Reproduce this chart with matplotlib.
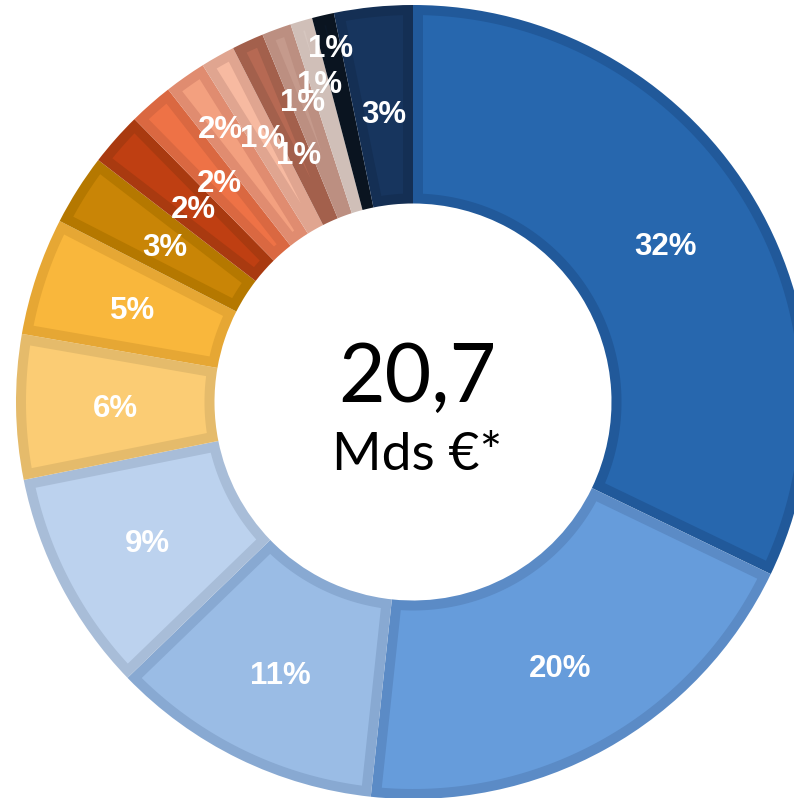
import matplotlib
matplotlib.use("Agg")
import matplotlib.pyplot as plt
from matplotlib.patches import Polygon
import numpy as np

# Share of each segment (percent), clockwise from 12 o'clock
shares = [32.2, 19.6, 11.1, 9.1, 5.9, 4.8, 2.9, 2.2, 1.8, 1.7, 1.4, 1.3, 1.2, 0.9, 0.9, 3.2]
fill_colors = ["#2767AE", "#669CDB", "#9ABCE5", "#BCD2EE", "#FBCC74", "#F9B73C",
               "#C98506", "#BF3F12", "#EE7246", "#F3A07F", "#F7BAA1", "#B66953",
               "#C59A8C", "#D6C6BF", "#0B1726", "#17355E"]
edge_colors = ["#21599A", "#5B8BC6", "#88A9D2", "#A8BDD8", "#E5BB6B", "#E6A734",
               "#B57800", "#A93A10", "#DA6841", "#E08C70", "#E0A590", "#A3604C",
               "#BC8F81", "#D0BFB8", "#0A1420", "#142F54"]
# radial position of each percentage label, as a fraction of the outer radius
label_radius = [0.75, 0.76, 0.76, 0.755, 0.75, 0.745, 0.74, 0.74, 0.74, 0.845,
                0.77, 0.69, 0.81, 0.84, 0.92, 0.735]

total_text = "20,7"
unit_text = "Mds €*"

W, H = 794, 798
fig = plt.figure(figsize=(W / 100, H / 100), dpi=100)
ax = fig.add_axes([0, 0, 1, 1])

cx, cy = 413, H - 402
R = 397
ring = 0.5
border = 10  # width of the darker inner rim of each segment


def inset_sector(w, d):
    """Polygon of a ring sector shrunk inward by d on every side."""
    r_out, r_in = w.r - d, w.r - w.width + d
    a, b = np.deg2rad(min(w.theta1, w.theta2)), np.deg2rad(max(w.theta1, w.theta2))
    x0, y0 = w.center
    rho = np.linspace(r_in, r_out, 200)
    off = np.arcsin(np.clip(d / rho, 0, 1))
    ok = (b - a) > 2 * off
    if not ok.any():
        return None
    rho, off = rho[ok], off[ok]
    # outer arc
    t_out = np.linspace(a + off[-1], b - off[-1], 120)
    pts = [np.column_stack([r_out * np.cos(t_out), r_out * np.sin(t_out)])]
    # side at angle b, going inward
    tb = b - off[::-1]
    pts.append(np.column_stack([rho[::-1] * np.cos(tb), rho[::-1] * np.sin(tb)]))
    # inner arc (only if the sector stays open at the inner radius)
    if rho[0] <= r_in + 1e-6:
        t_in = np.linspace(b - off[0], a + off[0], 80)
        pts.append(np.column_stack([r_in * np.cos(t_in), r_in * np.sin(t_in)]))
    # side at angle a, going outward
    ta = a + off
    pts.append(np.column_stack([rho * np.cos(ta), rho * np.sin(ta)]))
    xy = np.vstack(pts)
    xy[:, 0] += x0
    xy[:, 1] += y0
    return xy


wedges, _ = ax.pie(shares, colors=edge_colors, startangle=90, counterclock=False,
                   radius=R, center=(cx, cy),
                   wedgeprops=dict(width=R * ring, linewidth=0, antialiased=True))
for w, fc in zip(wedges, fill_colors):
    xy = inset_sector(w, border)
    if xy is not None:
        ax.add_patch(Polygon(xy, closed=True, facecolor=fc, edgecolor="none",
                             zorder=w.get_zorder() + 0.1))

ang = 90.0
for s, lr in zip(shares, label_radius):
    span = s / sum(shares) * 360.0
    mid = np.deg2rad(ang - span / 2)
    ang -= span
    ax.text(cx + lr * R * np.cos(mid), cy + lr * R * np.sin(mid) - 3, f"{s:.0f}%",
            ha="center", va="center", color="white", fontsize=22.5,
            fontweight="bold", family=["Liberation Sans", "DejaVu Sans"], zorder=5)

ax.text(417, H - 402, total_text, ha="center", va="baseline", fontsize=58,
        family=["Lato", "DejaVu Sans"], fontweight="normal", color="black")
ax.text(417, H - 470, unit_text, ha="center", va="baseline", fontsize=38.5,
        family=["Lato", "DejaVu Sans"], fontweight="normal", color="black")

ax.set_xlim(0, W)
ax.set_ylim(0, H)
ax.set_aspect("equal")
ax.axis("off")
fig.savefig("out.png", dpi=100)
